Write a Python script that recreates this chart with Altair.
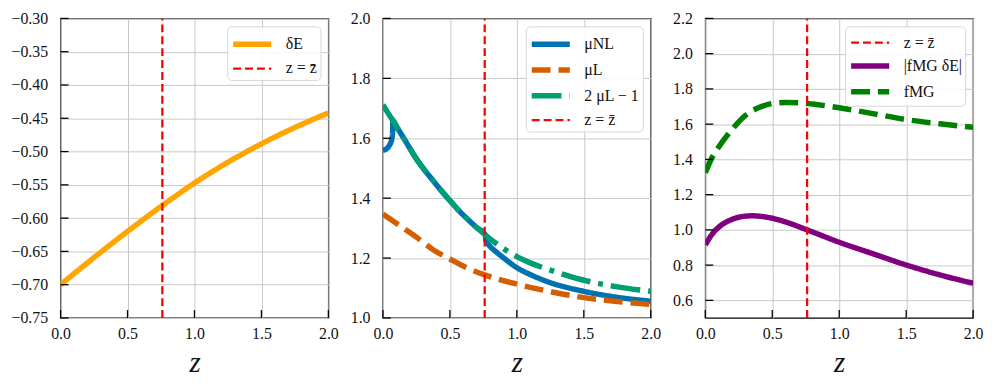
import altair as alt
import pandas as pd

Z_BAR = 0.76

# ---------------- panel 1 : delta_E ----------------
z_p1 = [0.0, 0.1, 0.2, 0.3, 0.4, 0.5, 0.6, 0.7, 0.8, 0.9, 1.0,
        1.1, 1.2, 1.3, 1.4, 1.5, 1.6, 1.7, 1.8, 1.9, 2.0]
delta_E = [-0.7000, -0.6835, -0.6672, -0.6512, -0.6355, -0.6200, -0.6048,
           -0.5898, -0.5752, -0.5610, -0.5472, -0.5343, -0.5220, -0.5103,
           -0.4991, -0.4884, -0.4782, -0.4685, -0.4593, -0.4505, -0.4420]

# ---------------- panel 2 : mu ----------------
z_mu_nl = [0.0, 0.03, 0.05, 0.065, 0.072, 0.074, 0.1, 0.15, 0.2, 0.247, 0.3,
           0.37, 0.43, 0.5, 0.56, 0.62, 0.7, 0.765, 0.768, 0.78, 0.8, 0.85,
           0.9, 1.0, 1.1, 1.25, 1.5, 1.75, 2.0]
mu_NL = [1.560, 1.566, 1.578, 1.595, 1.620, 1.659, 1.640, 1.604, 1.567, 1.533,
         1.500, 1.461, 1.428, 1.392, 1.362, 1.335, 1.302, 1.277, 1.262, 1.250,
         1.239, 1.219, 1.201, 1.168, 1.145, 1.118, 1.089, 1.069, 1.056]
z_mu_l = [0.0, 0.1, 0.25, 0.375, 0.5, 0.625, 0.76, 1.0, 1.25, 1.5, 1.75, 2.0]
mu_L = [1.347, 1.316, 1.270, 1.228, 1.197, 1.168, 1.144, 1.113, 1.088, 1.068,
        1.055, 1.045]
z_two_mu = [0.0, 0.02, 0.074, 0.1, 0.15, 0.2, 0.247, 0.3, 0.37, 0.43, 0.5,
            0.56, 0.62, 0.7, 0.765, 0.8, 0.9, 1.0, 1.1, 1.25, 1.5, 1.75, 2.0]
two_mu_L_minus_1 = [1.712, 1.697, 1.659, 1.640, 1.604, 1.567, 1.533, 1.500,
                    1.461, 1.428, 1.392, 1.362, 1.335, 1.302, 1.277, 1.264,
                    1.232, 1.205, 1.184, 1.160, 1.126, 1.104, 1.089]

# ---------------- panel 3 : f_MG ----------------
z_f = [0.0, 0.05, 0.1, 0.2, 0.3, 0.4, 0.5, 0.6, 0.7, 0.8, 1.0, 1.25, 1.5,
       1.75, 2.0]
f_MG = [1.325, 1.410, 1.470, 1.570, 1.650, 1.694, 1.717, 1.723, 1.721, 1.714,
        1.693, 1.660, 1.626, 1.602, 1.582]
z_fd = [0.0, 0.05, 0.1, 0.2, 0.3, 0.35, 0.4, 0.5, 0.6, 0.76, 1.0, 1.25, 1.5,
        1.75, 2.0]
f_MG_delta_E = [0.915, 0.975, 1.015, 1.060, 1.078, 1.080, 1.078, 1.066, 1.045,
                1.000, 0.930, 0.865, 0.801, 0.745, 0.697]

x_ticks = [0.0, 0.5, 1.0, 1.5, 2.0]
y_ticks_1 = [-0.75, -0.70, -0.65, -0.60, -0.55, -0.50, -0.45, -0.40, -0.35, -0.30]
y_ticks_2 = [1.0, 1.2, 1.4, 1.6, 1.8, 2.0]
y_ticks_3 = [0.6, 0.8, 1.0, 1.2, 1.4, 1.6, 1.8, 2.0, 2.2]

ZBAR_LABEL = "z = z\u0304"

W, H = 270, 302
FONT = "Liberation Serif"
GRID = "#c8c8c8"


def series_rows(name, zs, vals):
    return [{"series": name, "z": z, "val": v, "idx": i}
            for i, (z, v) in enumerate(zip(zs, vals))]


def panel(rows, draw_order, legend_order, colors, dashes, widths,
          ydomain, yticks, yfmt):
    df = pd.DataFrame(rows)
    legend = alt.Legend(
        title=None, orient="top-right", offset=8, padding=3,
        cornerRadius=4, strokeColor="#d6d6d6", fillColor="rgba(255,255,255,0.85)",
        symbolType="M-1,0H2.2", symbolSize=576, symbolFillColor="transparent",
        labelFont=FONT, labelFontSize=16, labelColor="#111", rowPadding=0,
        labelOffset=26,
    )
    xs = alt.Scale(domain=[0, 2], nice=False, zero=False)
    ys = alt.Scale(domain=ydomain, nice=False, zero=False)
    xaxis = alt.Axis(values=x_ticks, format=".1f", grid=True, gridColor=GRID,
                     gridWidth=1, ticks=False, domain=False, labelFont=FONT,
                     labelFontSize=16, labelColor="#111", labelPadding=8,
                     labelFlush=False,
                     title="z", titleFont=FONT, titleFontStyle="italic",
                     titleFontWeight="normal", titleFontSize=29,
                     titleColor="#111", titleBaseline="alphabetic", titleY=54)
    yaxis = alt.Axis(values=yticks, format=yfmt, grid=True, gridColor=GRID,
                     gridWidth=1, ticks=False, domain=False, labelFont=FONT,
                     labelFontSize=16, labelColor="#111", labelPadding=13,
                     labelFlush=False, title=None)
    layers = []
    for s in draw_order:
        interp = "linear" if s == ZBAR_LABEL else "monotone"
        layers.append(
            alt.Chart(df).transform_filter(alt.datum.series == s)
            .mark_line(strokeCap="butt", clip=True, interpolate=interp)
            .encode(
                x=alt.X("z:Q", scale=xs, axis=xaxis),
                y=alt.Y("val:Q", scale=ys, axis=yaxis),
                color=alt.Color("series:N", scale=alt.Scale(domain=legend_order, range=colors), legend=legend),
                strokeDash=alt.StrokeDash("series:N", scale=alt.Scale(domain=legend_order, range=dashes), legend=legend),
                strokeWidth=alt.StrokeWidth("series:N", scale=alt.Scale(type="ordinal", domain=legend_order, range=widths), legend=legend),
                order=alt.Order("idx:Q"),
            )
        )
    # inward ticks
    ytick_df = pd.DataFrame({"v": yticks})
    xtick_df = pd.DataFrame({"v": x_ticks})
    layers.append(alt.Chart(ytick_df).mark_rule(color="black", strokeWidth=1.3).encode(
        y=alt.Y("v:Q", scale=ys, axis=yaxis), x=alt.value(0), x2=alt.value(8)))
    layers.append(alt.Chart(xtick_df).mark_rule(color="black", strokeWidth=1.3).encode(
        x=alt.X("v:Q", scale=xs, axis=xaxis), y=alt.value(H - 8), y2=alt.value(H)))
    return alt.layer(*layers).properties(width=W, height=H)


# panel 1
rows1 = series_rows("\u03b4E", z_p1, delta_E) + series_rows(ZBAR_LABEL, [Z_BAR, Z_BAR], [-0.75, -0.30])
p1 = panel(rows1, ["\u03b4E", ZBAR_LABEL], ["\u03b4E", ZBAR_LABEL],
           ["#FFA500", "#FF0000"], [[1, 0], [8, 4]], [5.5, 2.3],
           [-0.75, -0.30], y_ticks_1, ".2f")

# panel 2
L_NL, L_L, L_2L = "\u03bcNL", "\u03bcL", "2 \u03bcL \u2212 1"
rows2 = (series_rows(L_NL, z_mu_nl, mu_NL) + series_rows(L_L, z_mu_l, mu_L)
         + series_rows(L_2L, z_two_mu, two_mu_L_minus_1)
         + series_rows(ZBAR_LABEL, [Z_BAR, Z_BAR], [1.0, 2.0]))
p2 = panel(rows2, [L_NL, L_L, L_2L, ZBAR_LABEL], [L_NL, L_L, L_2L, ZBAR_LABEL],
           ["#0072B2", "#D55E00", "#009E73", "#FF0000"],
           [[1, 0], [19, 8], [30, 8, 5, 8], [8, 4]], [5.5, 5.5, 5.5, 2.3],
           [1.0, 2.0], y_ticks_2, ".1f")

# panel 3
L_FD, L_F = "|fMG \u03b4E|", "fMG"
rows3 = (series_rows(ZBAR_LABEL, [Z_BAR, Z_BAR], [0.5, 2.2])
         + series_rows(L_FD, z_fd, f_MG_delta_E) + series_rows(L_F, z_f, f_MG))
p3 = panel(rows3, [L_FD, L_F, ZBAR_LABEL], [ZBAR_LABEL, L_FD, L_F],
           ["#FF0000", "#800080", "#008000"],
           [[8, 4], [1, 0], [19, 8]], [2.3, 5.5, 5.5],
           [0.5, 2.2], y_ticks_3, ".1f")

chart = alt.hconcat(p1, p2, p3, spacing=55, bounds="flush").resolve_scale(
    x="independent", y="independent", color="independent",
    strokeDash="independent", strokeWidth="independent"
).resolve_legend(
    color="independent", strokeDash="independent", strokeWidth="independent"
).properties(
    padding={"left": 2, "top": 0, "right": 5, "bottom": 0}
).configure_view(stroke="black", strokeWidth=1.3)

chart.save("out.html", embed_options={"renderer": "svg", "actions": False})
